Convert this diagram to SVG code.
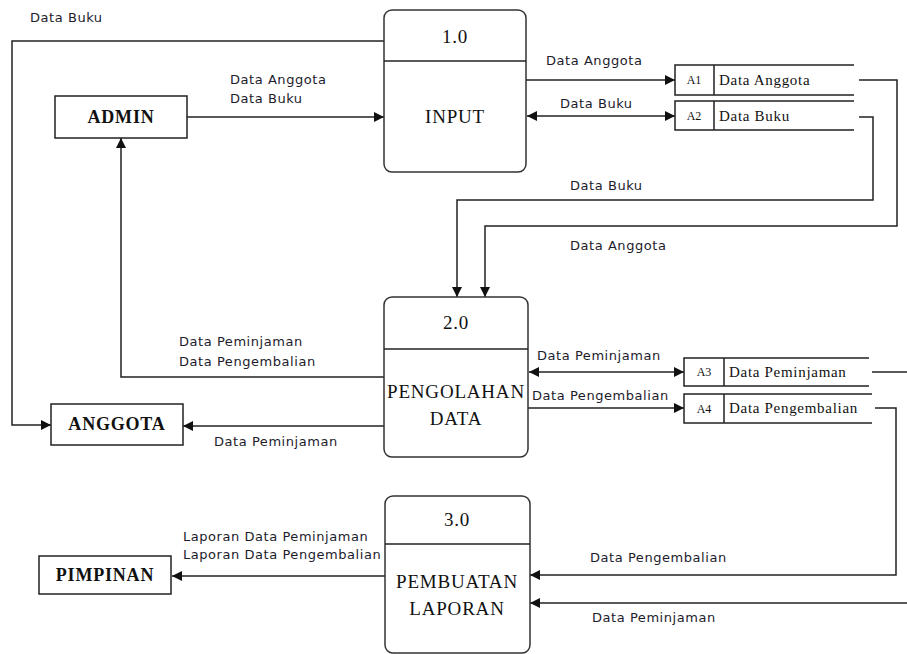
<svg xmlns="http://www.w3.org/2000/svg" width="907" height="654" viewBox="0 0 907 654">
<style>
.ln{fill:none;stroke:#222;stroke-width:1.5}
.box{fill:#fff;stroke:#222;stroke-width:1.5}
.proc{fill:#fff;stroke:#333;stroke-width:1.5}
.lbl{font-family:"DejaVu Sans",Verdana,sans-serif;font-size:13px;letter-spacing:0.55px;fill:#1c1c2c}
.ent{font-family:"Liberation Serif","Times New Roman",serif;font-size:18px;letter-spacing:0.8px;font-weight:bold;fill:#111;text-anchor:middle}
.pt{font-family:"Liberation Serif","Times New Roman",serif;font-size:19px;letter-spacing:0.8px;fill:#111;text-anchor:middle}
.ds{font-family:"Liberation Serif","Times New Roman",serif;font-size:15px;letter-spacing:0.7px;fill:#111}
.dsid{font-family:"Liberation Serif","Times New Roman",serif;font-size:12px;fill:#111;text-anchor:middle}
</style>
<defs>
<marker id="ah" viewBox="0 0 10 10" refX="10" refY="5" markerWidth="10" markerHeight="10" markerUnits="userSpaceOnUse" orient="auto-start-reverse">
<path d="M0,0 L10,5 L0,10 Z" fill="#111"/>
</marker>
</defs>
<rect width="907" height="654" fill="#fff"/>

<g id="connectors">
<path class="ln" d="M187,117 H384" marker-end="url(#ah)"/>
<path class="ln" d="M384,41 H12 V425 H51" marker-end="url(#ah)"/>
<path class="ln" d="M526,80 H675" marker-end="url(#ah)"/>
<path class="ln" d="M527,116 H675" marker-start="url(#ah)" marker-end="url(#ah)"/>
<path class="ln" d="M859,80 H897 V226 H485 V297" marker-end="url(#ah)"/>
<path class="ln" d="M859,117 H873 V200 H457 V297" marker-end="url(#ah)"/>
<path class="ln" d="M384,377 H121 V138" marker-end="url(#ah)"/>
<path class="ln" d="M384,426 H183" marker-end="url(#ah)"/>
<path class="ln" d="M529,372 H684" marker-start="url(#ah)" marker-end="url(#ah)"/>
<path class="ln" d="M528,408 H684" marker-end="url(#ah)"/>
<path class="ln" d="M872,372 H907"/>
<path class="ln" d="M875,408 H896 V575 H530" marker-end="url(#ah)"/>
<path class="ln" d="M907,603 H530" marker-end="url(#ah)"/>
<path class="ln" d="M385,576 H172" marker-end="url(#ah)"/>

<text class="lbl" x="30" y="22">Data Buku</text>
<text class="lbl" x="230" y="84">Data Anggota</text>
<text class="lbl" x="230" y="103">Data Buku</text>
<text class="lbl" x="546" y="65">Data Anggota</text>
<text class="lbl" x="560" y="108">Data Buku</text>
<text class="lbl" x="570" y="190">Data Buku</text>
<text class="lbl" x="570" y="250">Data Anggota</text>
<text class="lbl" x="179" y="346">Data Peminjaman</text>
<text class="lbl" x="179" y="366">Data Pengembalian</text>
<text class="lbl" x="214" y="446">Data Peminjaman</text>
<text class="lbl" x="537" y="360">Data Peminjaman</text>
<text class="lbl" x="532" y="400">Data Pengembalian</text>
<text class="lbl" x="183" y="541">Laporan Data Peminjaman</text>
<text class="lbl" x="183" y="559">Laporan Data Pengembalian</text>
<text class="lbl" x="590" y="562">Data Pengembalian</text>
<text class="lbl" x="592" y="622">Data Peminjaman</text>
</g>

<g id="admin">
<rect class="box" x="55" y="96" width="132" height="42"/>
<text class="ent" x="121" y="123">ADMIN</text>
</g>
<g id="anggota">
<rect class="box" x="51" y="404" width="132" height="41"/>
<text class="ent" x="117" y="430">ANGGOTA</text>
</g>
<g id="pimpinan">
<rect class="box" x="39" y="556" width="132" height="38"/>
<text class="ent" x="105" y="581">PIMPINAN</text>
</g>

<g id="p1">
<rect class="proc" x="384" y="10" width="142" height="162" rx="8"/>
<line class="ln" x1="384" y1="61" x2="526" y2="61"/>
<text class="pt" x="455" y="43">1.0</text>
<text class="pt" x="455" y="123">INPUT</text>
</g>
<g id="p2">
<rect class="proc" x="384" y="297" width="144" height="160" rx="8"/>
<line class="ln" x1="384" y1="349" x2="528" y2="349"/>
<text class="pt" x="456" y="329">2.0</text>
<text class="pt" x="456" y="398">PENGOLAHAN</text>
<text class="pt" x="456" y="425">DATA</text>
</g>
<g id="p3">
<rect class="proc" x="385" y="496" width="145" height="157" rx="8"/>
<line class="ln" x1="385" y1="544" x2="530" y2="544"/>
<text class="pt" x="457" y="526">3.0</text>
<text class="pt" x="457" y="588">PEMBUATAN</text>
<text class="pt" x="457" y="615">LAPORAN</text>
</g>

<g id="a1">
<path class="ln" d="M854,65 H675 V95 H854 M714,65 V95"/>
<text class="dsid" x="694" y="84">A1</text>
<text class="ds" x="719" y="85">Data Anggota</text>
</g>
<g id="a2">
<path class="ln" d="M854,101 H675 V130 H854 M714,101 V130"/>
<text class="dsid" x="694" y="120">A2</text>
<text class="ds" x="719" y="121">Data Buku</text>
</g>
<g id="a3">
<path class="ln" d="M869,358 H684 V386 H869 M724,358 V386"/>
<text class="dsid" x="704" y="376">A3</text>
<text class="ds" x="729" y="377">Data Peminjaman</text>
</g>
<g id="a4">
<path class="ln" d="M872,394 H684 V423 H872 M724,394 V423"/>
<text class="dsid" x="704" y="413">A4</text>
<text class="ds" x="729" y="413">Data Pengembalian</text>
</g>
</svg>
